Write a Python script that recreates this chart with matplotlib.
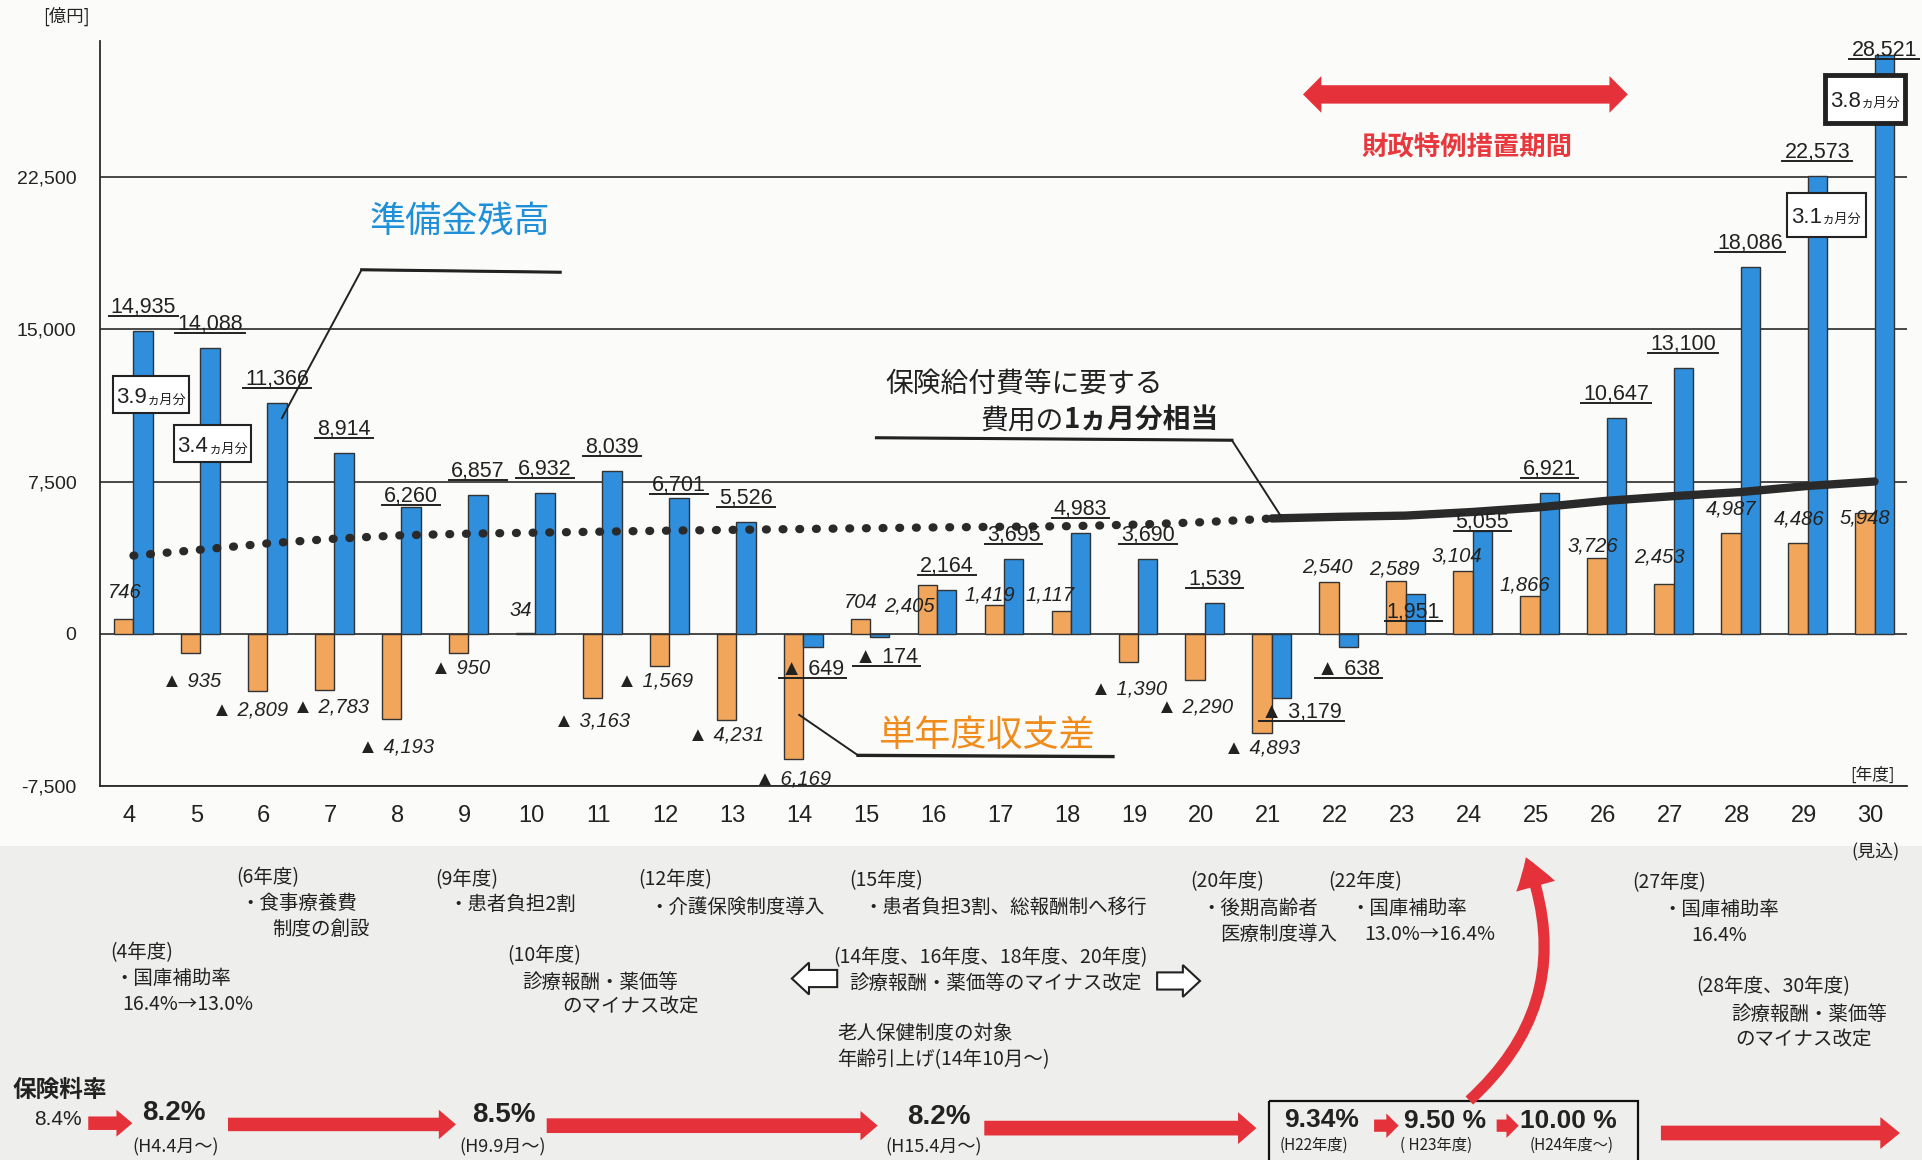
import matplotlib
matplotlib.use('Agg')
import matplotlib.pyplot as plt
from matplotlib.patches import Rectangle, Polygon, FancyArrowPatch
from matplotlib.lines import Line2D
from matplotlib.transforms import IdentityTransform, ScaledTranslation
import numpy as np

JP = ['Noto Sans CJK JP', 'DejaVu Sans']
NUM = ['Liberation Sans', 'Noto Sans CJK JP', 'DejaVu Sans']
plt.rcParams['font.family'] = JP

BLUE = '#2f8fdd'
ORANGE = '#f2a65c'
RED = '#e5323a'
INK = '#222222'

# ---- data (億円) ----
years = list(range(4, 31))
reserve = [14935, 14088, 11366, 8914, 6260, 6857, 6932, 8039, 6701, 5526,
           -649, -174, 2164, 3695, 4983, 3690, 1539, -3179, -638, 1951,
           5055, 6921, 10647, 13100, 18086, 22573, 28521]
balance = [746, -935, -2809, -2783, -4193, -950, 34, -3163, -1569, -4231,
           -6169, 704, 2405, 1419, 1117, -1390, -2290, -4893, 2540, 2589,
           3104, 1866, 3726, 2453, 4987, 4486, 5948]
cost_years_a = list(range(4, 22))
cost_a = [3850, 4140, 4450, 4680, 4850, 4930, 4980, 5030, 5080, 5120,
          5160, 5200, 5240, 5270, 5300, 5380, 5500, 5680]
cost_years_b = list(range(21, 31))
cost_b = [5680, 5760, 5820, 6000, 6230, 6550, 6780, 6980, 7280, 7500]
months_cover = {4: '3.9', 5: '3.4', 29: '3.1', 30: '3.8'}
ytick_vals = [-7500, 0, 7500, 15000, 22500]
ytick_labels = ['-7,500', '0', '7,500', '15,000', '22,500']
xtick_labels = [str(y) for y in years]

fig = plt.figure(figsize=(19.22, 11.6), dpi=100, facecolor='#fbfbfa')
fig.add_artist(Rectangle((0, 0), 1, 256 / 946, transform=fig.transFigure,
                         fc='#eeeeec', ec='none', zorder=-10))

ax = fig.add_axes([100 / 1922, 1 - 786 / 1160, 1807 / 1922, 745 / 1160])
ax.set_facecolor('none')

x = np.array(years)
ax.bar(x - 0.145, balance, 0.29, color=ORANGE, edgecolor='#333333', linewidth=1.0, zorder=3)
ax.bar(x + 0.145, reserve, 0.29, color=BLUE, edgecolor='#333333', linewidth=1.0, zorder=3)

ax.plot(cost_years_a, cost_a, color='#2a2a2a', lw=6, dashes=(0.1, 1.9),
        dash_capstyle='round', zorder=5)
ax.plot(cost_years_b, cost_b, color='#2a2a2a', lw=6, solid_capstyle='round', zorder=5)

ax.set_xlim(3.5, 30.485)
ax.set_ylim(-7500, 29200)
ax.set_yticks(ytick_vals, ytick_labels)
ax.set_xticks(years, xtick_labels)
ax.tick_params(axis='y', length=0, pad=17, labelsize=14, labelcolor=INK)
ax.tick_params(axis='x', length=0, pad=14, labelsize=17, labelcolor=INK)
for lbl in ax.get_yticklabels():
    lbl.set_fontfamily(NUM)
for lbl in ax.get_xticklabels():
    lbl.set_fontfamily(NUM)
    lbl.set_transform(lbl.get_transform() + ScaledTranslation(-4 / 100, 0, fig.dpi_scale_trans))
ax.set_axisbelow(True)
ax.yaxis.grid(True, color='#2a2a2a', lw=1.2)
for s in ['top', 'right']:
    ax.spines[s].set_visible(False)
for s in ['left', 'bottom']:
    ax.spines[s].set_color('#2a2a2a')
    ax.spines[s].set_linewidth(1.3)

# value labels
blue_off = {8: (0, 5), 12: (0, 7), 14: (0, -28), 15: (7, -26), 21: (20, -20),
            22: (0, -28), 23: (-2, -24), 24: (0, 3), 30: (0, -1)}
orange_off = [(1, 26), (1, -29), (-8, -19), (6, -17), (4, -28), (2, -15), (-5, 23),
              (0, -23), (-4, -15), (0, -15), (0, -20), (0, 17), (-18, -21), (-4, 10),
              (-11, 16), (1, -27), (0, -27), (0, -15), (-2, 15), (-2, 12), (-6, 15),
              (-5, 11), (-4, 12), (-4, 27), (0, 24), (1, 24), (0, -5)]

def fmt(v):
    return f'{v:,}' if v >= 0 else f'▲ {-v:,}'

blue_txt = []
for yr, v in zip(years, reserve):
    dx, dy = blue_off.get(yr, (0, 18))
    t = ax.annotate(fmt(v), (yr + 0.145, v), xytext=(dx, dy), textcoords='offset pixels',
                    ha='center', va='baseline', fontsize=15.5, family=NUM, color=INK, zorder=6)
    blue_txt.append((t, yr + 0.145, v, dy))

for yr, v, (dx, dy) in zip(years, balance, orange_off):
    ax.annotate(fmt(v), (yr - 0.145, v), xytext=(dx, dy), textcoords='offset pixels',
                ha='center', va='center', fontsize=14.5, family=NUM, style='italic',
                color=INK, zorder=6)

fig.canvas.draw()
rend = fig.canvas.get_renderer()
for t, xv, v, dy in blue_txt:
    bb = t.get_window_extent(rend)
    px, py = ax.transData.transform((xv, v))
    yl = py + dy - 3
    fig.add_artist(Line2D([bb.x0 - 2, bb.x1 + 2], [yl, yl], transform=IdentityTransform(),
                          color=INK, lw=1.4, zorder=7))

# ---- overlay in reference pixel space ----
ov = fig.add_axes([0, 0, 1, 1])
ov.set_xlim(0, 1568)
ov.set_ylim(946, 0)
ov.axis('off')


def harrow(x0, x1, y, th, hw, hl, fc=RED, ec='none', lw=0):
    if x1 > x0:
        pts = [(x0, y - th / 2), (x1 - hl, y - th / 2), (x1 - hl, y - hw / 2), (x1, y),
               (x1 - hl, y + hw / 2), (x1 - hl, y + th / 2), (x0, y + th / 2)]
    else:
        pts = [(x0, y - th / 2), (x1 + hl, y - th / 2), (x1 + hl, y - hw / 2), (x1, y),
               (x1 + hl, y + hw / 2), (x1 + hl, y + th / 2), (x0, y + th / 2)]
    ov.add_patch(Polygon(pts, closed=True, fc=fc, ec=ec, lw=lw, joinstyle='miter'))


def txt(xp, yp, s, size=14, **kw):
    kw.setdefault('ha', 'left')
    kw.setdefault('va', 'center')
    kw.setdefault('color', INK)
    ov.text(xp, yp, s, fontsize=size, **kw)


txt(54, 13, '[億円]', 12.5, ha='center')
txt(1528, 632, '[年度]', 12, ha='center')
txt(1530, 695, '(見込)', 13, ha='center')

# month-cover boxes
box_geom = {4: (92, 307, 62, 30, 1.5), 5: (142, 347, 63, 30, 1.5),
            29: (1458, 157, 64, 36, 1.5), 30: (1489, 61, 65, 39, 3.5)}
for yr, val in months_cover.items():
    bx, by, bw, bh, blw = box_geom[yr]
    ov.add_patch(Rectangle((bx, by), bw, bh, fc='white', ec='#222222', lw=blw, zorder=4))
    cx, cy = bx + bw / 2, by + bh / 2
    ov.text(cx - 3.5, cy + 7, val, fontsize=16, family=NUM, ha='right', va='baseline',
            color=INK, zorder=5)
    ov.text(cx - 3.5, cy + 7, 'ヵ月分', fontsize=9.5, ha='left', va='baseline',
            color=INK, zorder=5)

# series callouts
txt(375, 181, '準備金残高', 26, ha='center', color='#1f8fd8')
ov.plot([457, 295, 230], [222, 220, 341], color='#222222', lw=1.4)
ov.plot([457, 295], [222, 220], color='#222222', lw=2.2)

txt(722, 313, '保険給付費等に要する', 20)
txt(800, 343, '費用の', 20)
txt(868, 343, '1ヵ月分相当', 20, weight='bold')
ov.plot([715, 1005, 1045], [357, 359, 421], color='#222222', lw=1.4)
ov.plot([715, 1005], [357, 359], color='#222222', lw=2.2)

txt(805, 600, '単年度収支差', 26, ha='center', color='#f08c1c')
ov.plot([652, 700, 908], [583, 616, 617], color='#222222', lw=1.4)
ov.plot([700, 908], [616, 617], color='#222222', lw=2.4)

# special fiscal period
x0, x1, yy, th, hw, hl = 1063, 1328, 77, 15, 30, 15
ov.add_patch(Polygon([(x0, yy), (x0 + hl, yy - hw / 2), (x0 + hl, yy - th / 2),
                      (x1 - hl, yy - th / 2), (x1 - hl, yy - hw / 2), (x1, yy),
                      (x1 - hl, yy + hw / 2), (x1 - hl, yy + th / 2),
                      (x0 + hl, yy + th / 2), (x0 + hl, yy + hw / 2)],
                     closed=True, fc=RED, ec='none'))
txt(1197, 121, '財政特例措置期間', 19, ha='center', color='#e8383d', weight='bold')

# policy notes
notes = [
    (193, 716, '(6年度)'), (196, 737, '・食事療養費'), (222, 758, '制度の創設'),
    (355, 717, '(9年度)'), (366, 738, '・患者負担2割'),
    (521, 717, '(12年度)'), (530, 740, '・介護保険制度導入'),
    (693, 718, '(15年度)'), (704, 740, '・患者負担3割、総報酬制へ移行'),
    (971, 719, '(20年度)'), (980, 741, '・後期高齢者'), (995, 762, '医療制度導入'),
    (1084, 719, '(22年度)'), (1102, 741, '・国庫補助率'), (1113, 762, '13.0%→16.4%'),
    (1332, 720, '(27年度)'), (1356, 742, '・国庫補助率'), (1380, 763, '16.4%'),
    (90, 777, '(4年度)'), (93, 798, '・国庫補助率'), (100, 819, '16.4%→13.0%'),
    (414, 779, '(10年度)'), (426, 801, '診療報酬・薬価等'), (459, 821, 'のマイナス改定'),
    (680, 781, '(14年度、16年度、18年度、20年度)'), (693, 802, '診療報酬・薬価等のマイナス改定'),
    (683, 843, '老人保健制度の対象'), (683, 864, '年齢引上げ(14年10月～)'),
    (1384, 805, '(28年度、30年度)'), (1412, 827, '診療報酬・薬価等'), (1416, 848, 'のマイナス改定'),
]
for nx, ny, s in notes:
    txt(nx, ny, s, 14)

harrow(683, 646, 798, 14, 26, 14, fc='white', ec='#222222', lw=1.5)
harrow(944, 979, 800, 14, 26, 14, fc='white', ec='#222222', lw=1.5)

# premium rate row
txt(10, 889, '保険料率', 17, weight='bold')
txt(28, 913, '8.4%', 15, family=NUM)
harrow(72, 108, 916, 11, 22, 13)
txt(116, 908, '8.2%', 20, family=NUM, weight='bold')
txt(108, 936, '(H4.4月～)', 13)
harrow(186, 372, 917, 11, 24, 14)
txt(385, 909, '8.5%', 20, family=NUM, weight='bold')
txt(375, 936, '(H9.9月～)', 13)
harrow(446, 716, 918, 12, 24, 14)
txt(740, 911, '8.2%', 20, family=NUM, weight='bold')
txt(722, 936, '(H15.4月～)', 13)
harrow(803, 1025, 920, 12, 26, 15)
ov.add_patch(Rectangle((1035, 898), 301, 55, fc='none', ec='#111111', lw=1.6))
txt(1048, 913, '9.34%', 19, family=NUM, weight='bold')
txt(1044, 934, '(H22年度)', 11)
harrow(1121, 1141, 918, 10, 20, 10)
txt(1145, 914, '9.50 %', 19, family=NUM, weight='bold')
txt(1142, 934, '( H23年度)', 11)
harrow(1221, 1239, 918, 10, 20, 10)
txt(1240, 914, '10.00 %', 19, family=NUM, weight='bold')
txt(1248, 934, '(H24年度～)', 11)
ov.add_patch(FancyArrowPatch((1197, 899), (1244, 697), connectionstyle='arc3,rad=0.35',
                             arrowstyle='simple,head_width=1.45,head_length=1.1,tail_width=0.4',
                             mutation_scale=20, fc=RED, ec='none'))
harrow(1355, 1550, 924, 12, 26, 16)

fig.savefig('out.png', dpi=100, facecolor=fig.get_facecolor())
